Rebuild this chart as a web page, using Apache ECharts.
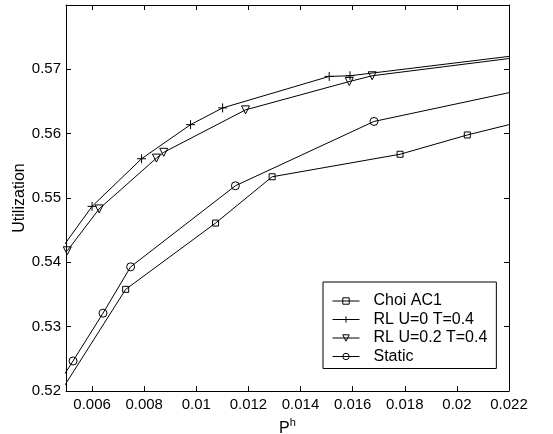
<!DOCTYPE html>
<html><head><meta charset="utf-8">
<script src="https://cdn.jsdelivr.net/npm/echarts@6/dist/echarts.min.js"></script>
<style>html,body{margin:0;padding:0;background:#fff}#c{width:553px;height:434px}</style>
</head><body><div id="c"></div>
<script>
// Data (points just outside the axis range carry the clipped line ends)
var xTicks = [0.006, 0.008, 0.010, 0.012, 0.014, 0.016, 0.018, 0.020, 0.022];
var yTicks = [0.52, 0.53, 0.54, 0.55, 0.56, 0.57, 0.58];

var xChoi = [0.0045, 0.00729, 0.01074, 0.01291, 0.01782, 0.0204, 0.024];
var yChoi = [0.5180, 0.5358, 0.5461, 0.5533, 0.5568, 0.5598, 0.5634];

var xRL0 = [0.0045, 0.0060, 0.0079, 0.00978, 0.01101, 0.0151, 0.0159, 0.024];
var yRL0 = [0.5403, 0.5487, 0.5561, 0.5614, 0.5640, 0.5689, 0.5690, 0.5730];

var xRL02 = [0.00505, 0.00627, 0.00847, 0.00875, 0.01189, 0.01587, 0.01675, 0.024];
var yRL02 = [0.5418, 0.5483, 0.5562, 0.5571, 0.5637, 0.5681, 0.5690, 0.5727];

var xStatic = [0.0045, 0.00527, 0.00642, 0.00748, 0.0115, 0.01682, 0.024];
var yStatic = [0.5198, 0.52467, 0.5321, 0.5393, 0.5519, 0.5619, 0.5681];

var names = ['Choi AC1', 'RL U=0 T=0.4', 'RL U=0.2 T=0.4', 'Static'];

function pairs(xs, ys) { return xs.map(function (x, i) { return [x, ys[i]]; }); }

var FONT = 'Liberation Sans, Arial, Helvetica, sans-serif';
var chart = echarts.init(document.getElementById('c'), null, {renderer: 'canvas'});

function baseX(pos, showLabel) {
  return {
    type: 'value', position: pos, min: 0.005, max: 0.022,
    axisLine: {show: true, onZero: false, lineStyle: {color: '#000', width: 1}},
    axisTick: {show: true, inside: true, length: 5, customValues: xTicks, lineStyle: {color: '#000'}},
    axisLabel: {show: showLabel, customValues: xTicks, color: '#000', fontSize: 15, fontFamily: FONT, margin: 6,
      formatter: function (v) { return String(+(+v).toFixed(3)); }},
    splitLine: {show: false}
  };
}
function baseY(pos, showLabel) {
  return {
    type: 'value', position: pos, min: 0.52, max: 0.58,
    axisLine: {show: true, onZero: false, lineStyle: {color: '#000', width: 1}},
    axisTick: {show: true, inside: true, length: 5, customValues: yTicks, lineStyle: {color: '#000'}},
    axisLabel: {show: showLabel, customValues: yTicks.slice(0, 6), color: '#000', fontSize: 15, fontFamily: FONT, margin: 5,
      formatter: function (v) { return (+v).toFixed(2); }},
    splitLine: {show: false}
  };
}

var xb = baseX('bottom', true);
xb.name = '{p|P}{h|h}';
xb.nameLocation = 'middle';
xb.nameGap = 26;
xb.nameTextStyle = {rich: {
  p: {fontSize: 16, fontFamily: FONT, color: '#000'},
  h: {fontSize: 11, fontFamily: FONT, color: '#000', padding: [0, 0, 12, 0]}
}};
var yl = baseY('left', true);
yl.name = 'Utilization';
yl.nameLocation = 'middle';
yl.nameGap = 38;
yl.nameMoveOverlap = false;
yl.nameTextStyle = {fontSize: 16, fontFamily: FONT, color: '#000'};

var common = {
  type: 'line', clip: true, showAllSymbol: true,
  lineStyle: {color: '#000', width: 1},
  itemStyle: {color: 'rgba(0,0,0,0)', borderColor: '#000', borderWidth: 1},
  emphasis: {disabled: true}, animation: false, z: 3
};
function ser(name, xs, ys, symbol, size, rot) {
  var s = Object.assign({}, common, {name: name, data: pairs(xs, ys), symbol: symbol, symbolSize: size});
  if (rot) s.symbolRotate = rot;
  return s;
}

chart.setOption({
  animation: false,
  backgroundColor: '#fff',
  grid: {left: 66, right: 44, top: 5, bottom: 43, containLabel: false, outerBoundsMode: 'none'},
  xAxis: [xb, baseX('top', false)],
  yAxis: [yl, baseY('right', false)],
  legend: {
    orient: 'vertical', left: 323, top: 282,
    padding: [11, 9, 4, 9],
    backgroundColor: '#fff', borderColor: '#000', borderWidth: 1, borderRadius: 0,
    itemWidth: 27, itemHeight: 8, itemGap: 2.5,
    lineStyle: {width: 1, color: '#000'},
    itemStyle: {borderWidth: 1, borderColor: '#000'},
    textStyle: {fontSize: 16, fontFamily: FONT, color: '#000', lineHeight: 16, padding: [0, 0, 0, 9]},
    data: names
  },
  series: [
    ser(names[0], xChoi, yChoi, 'rect', 6),
    ser(names[1], xRL0, yRL0, 'path://M5,0L5,10M0,5L10,5', 9),
    ser(names[2], xRL02, yRL02, 'triangle', 8, 180),
    ser(names[3], xStatic, yStatic, 'circle', 8)
  ]
});
</script></body></html>
